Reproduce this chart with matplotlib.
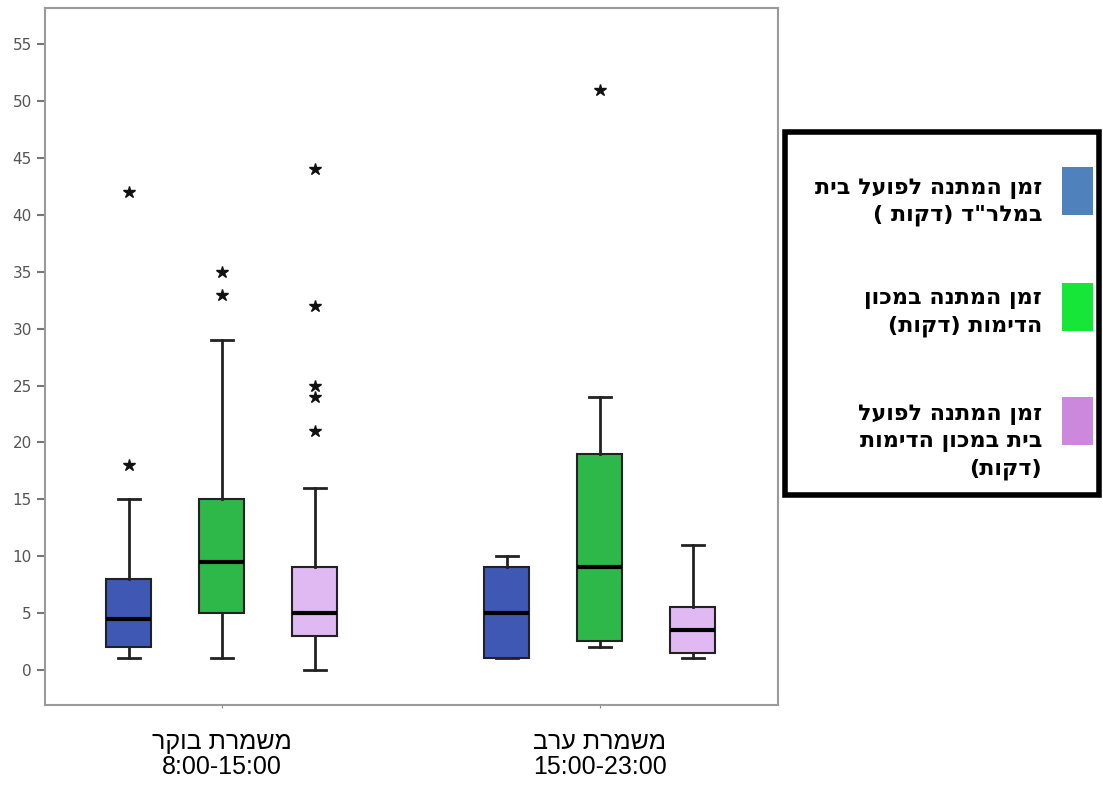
import matplotlib.pyplot as plt
from matplotlib.patches import Rectangle

# Data (minutes)
groups = ['משמרת בוקר', 'משמרת ערב']
group_hours = ['8:00-15:00', '15:00-23:00']
series = ['זמן המתנה לפועל בית\nבמלר"ד (דקות )',
          'זמן המתנה במכון\nהדימות (דקות)',
          'זמן המתנה לפועל\nבית במכון הדימות\n(דקות)']
box_colors = ['#3f58b4', '#2fb84a', '#e0b8f2']
legend_colors = ['#4f81bd', '#15e637', '#cc88dd']

# [whislo, q1, median, q3, whishi] per group, per series
stats_morning = [[1, 2, 4.5, 8, 15], [1, 5, 9.5, 15, 29], [0, 3, 5, 9, 16]]
stats_evening = [[1, 1, 5, 9, 10], [2, 2.5, 9, 19, 24], [1, 1.5, 3.5, 5.5, 11]]
fliers_morning = [[18, 42], [33, 35], [21, 24, 25, 32, 44]]
fliers_evening = [[], [51], []]


def rtl(s):
    # matplotlib has no bidi support: reverse each line, mirror brackets
    swap = {'(': ')', ')': '('}
    return '\n'.join(''.join(swap.get(c, c) for c in line[::-1])
                     for line in s.split('\n'))


fig = plt.figure(figsize=(11.03, 7.87), dpi=100)
ax = fig.add_axes([0.0408, 0.1042, 0.6645, 0.8856])

offset = 0.246
width = 0.119
for g, (stats, fliers) in enumerate([(stats_morning, fliers_morning),
                                      (stats_evening, fliers_evening)]):
    for i in range(3):
        lo, q1, med, q3, hi = stats[i]
        pos = g + 1 + (i - 1) * offset
        ax.bxp([dict(whislo=lo, q1=q1, med=med, q3=q3, whishi=hi,
                     fliers=fliers[i])],
               positions=[pos], widths=width, patch_artist=True,
               showfliers=False,
               boxprops=dict(facecolor=box_colors[i], edgecolor='#222222',
                             linewidth=1.5),
               medianprops=dict(color='black', linewidth=3),
               whiskerprops=dict(color='#222222', linewidth=2),
               capprops=dict(color='#222222', linewidth=2))
        if fliers[i]:
            ax.plot([pos] * len(fliers[i]), fliers[i], linestyle='none',
                    marker='*', color='#111111', markersize=9)

ax.set_xlim(0.532, 2.471)
ax.set_ylim(-3.1, 58.2)
ax.set_yticks(range(0, 56, 5))
ax.tick_params(axis='y', colors='#777777', labelcolor='#555555',
               labelsize=11, length=6, width=1.5)
ax.set_xticks([1, 2])
ax.set_xticklabels([rtl(g) + '\n' + h for g, h in zip(groups, group_hours)],
                   fontsize=18, family='Liberation Sans', linespacing=1.05)
ax.tick_params(axis='x', length=2, pad=16, colors='#888888',
               labelcolor='black')
for sp in ax.spines.values():
    sp.set_color('#9a9a9a')
    sp.set_linewidth(1.5)

# legend box on the right
fig.patches.append(Rectangle((0.7117, 0.371), 0.285, 0.461,
                             transform=fig.transFigure, fill=True,
                             facecolor='white', edgecolor='black',
                             linewidth=4, zorder=5))
text_y = [0.743, 0.602, 0.438]
patch_y = [0.757, 0.610, 0.465]
for label, col, ty, py in zip(series, legend_colors, text_y, patch_y):
    fig.patches.append(Rectangle((0.9628, py - 0.0305), 0.0281, 0.061,
                                 transform=fig.transFigure,
                                 facecolor=col, edgecolor='none', zorder=6))
    fig.text(0.9447, ty, rtl(label), ha='right', va='center',
             fontsize=16, fontweight='bold', linespacing=1.4,
             family='DejaVu Sans', zorder=7)

fig.savefig('out.png', dpi=100)
plt.close()
